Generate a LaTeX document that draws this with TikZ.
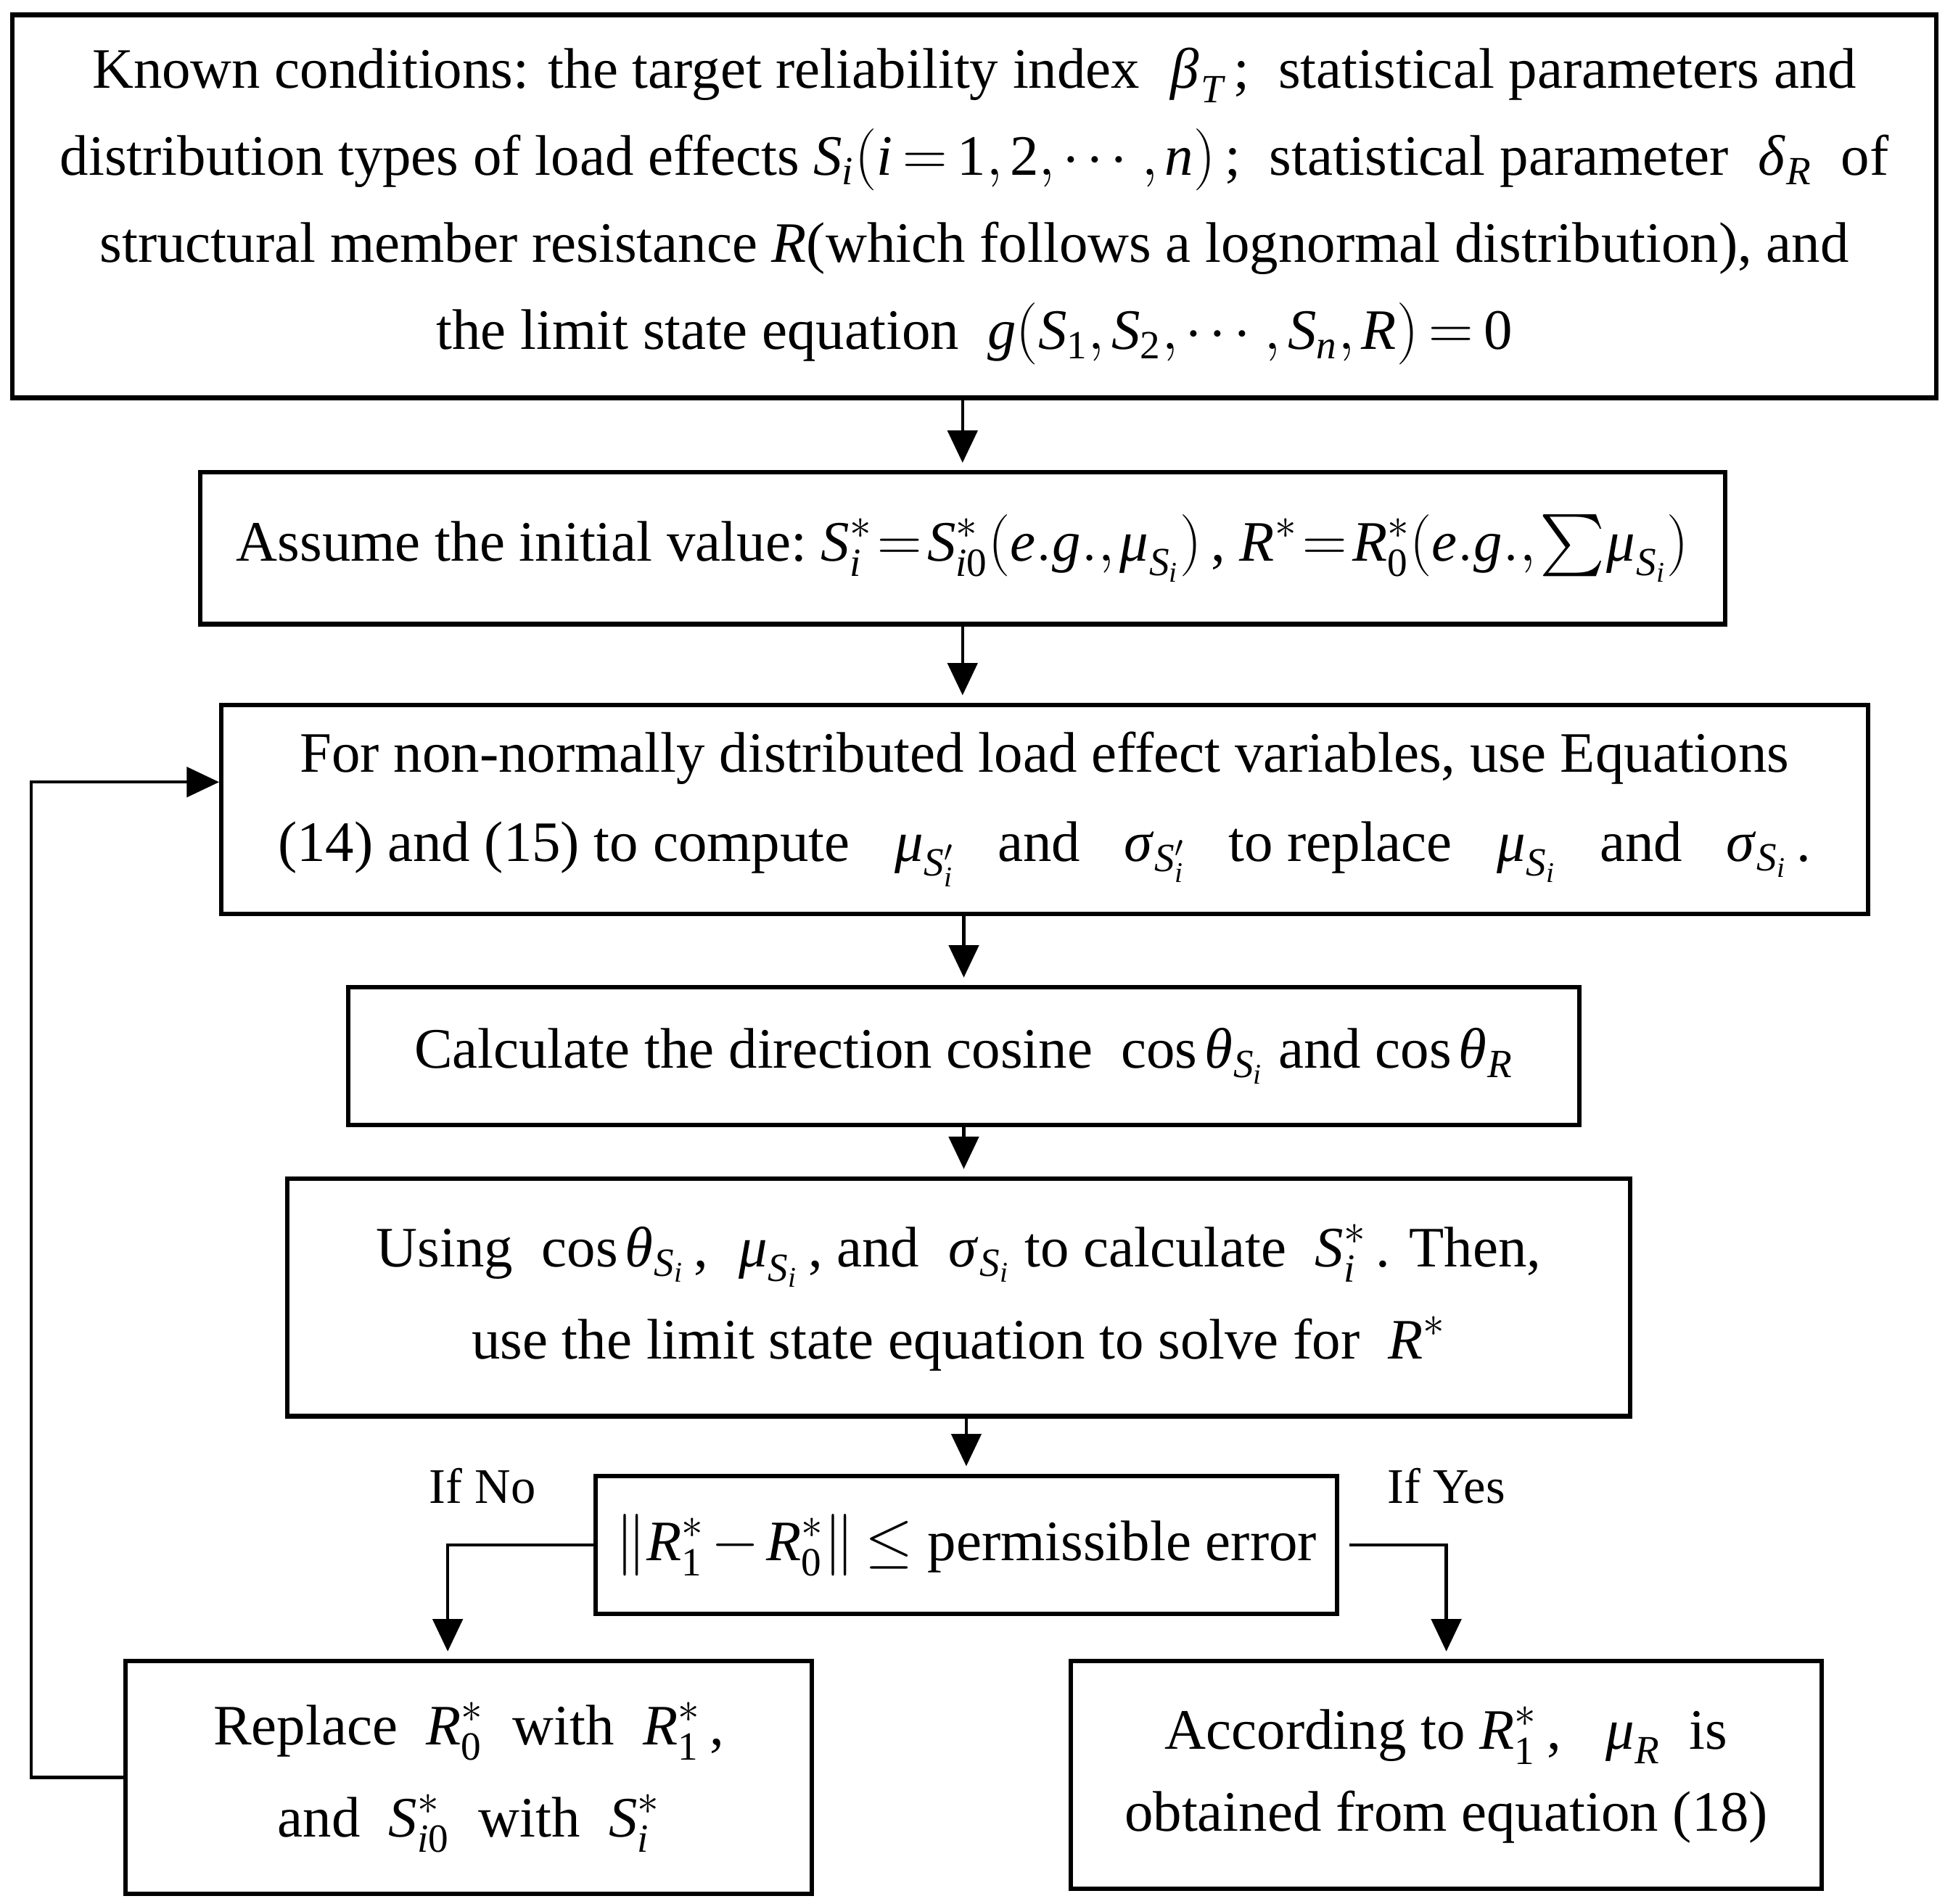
\documentclass[tikz,border=0pt]{standalone}
\usepackage{amsmath}
\usepackage{mathspec}
\setmainfont{Liberation Serif}
\setmathsfont(Digits,Latin,Greek){Liberation Serif}
\setmathrm{Liberation Serif}
\usetikzlibrary{arrows.meta,calc}
\newcommand{\tightmath}{\thickmuskip=3mu plus 1mu\medmuskip=2mu plus 1mu\thinmuskip=2mu\relax}
\newcommand{\tightermath}{\thickmuskip=1.5mu\medmuskip=1mu\thinmuskip=1mu\relax}
\begin{document}
\begin{tikzpicture}[x=0.5pt,y=-0.5pt,
  box/.style={draw,line width=1.8pt,rectangle,inner sep=0pt,align=center,
    font=\fontsize{23}{35}\selectfont\tightmath},
  arr/.style={line width=1.3pt,-{Triangle[length=13pt,width=12pt]},shorten >=3pt},
  lbl/.style={font=\fontsize{20}{24}\selectfont}]
\useasboundingbox (0,0) rectangle (1564,1531);
\node[box,minimum width=1547*0.5pt,minimum height=308*0.5pt] (b1) at (783.5,166)
 {Known conditions: the target reliability index \ $\beta_T$\,;\ \ statistical parameters and\\
  distribution types of load effects $S_i(i=1,2,\cdots,n)$\,;\ \ statistical parameter \ $\delta_R$\ \ of\\
  structural member resistance $R$(which follows a lognormal distribution), and\\
  the limit state equation \ $g(S_1,S_2,\cdots,S_n,R)=0$};
\node[box,minimum width=1226*0.5pt,minimum height=122*0.5pt,font=\fontsize{23}{35}\selectfont\tightermath] (b2) at (774,441)
 {Assume the initial value:\ $S_i^*=S_{i0}^*(e.g.,\mu_{S_i})$\,,\ $R^*=R_0^*(e.g.,{\textstyle\sum}\mu_{S_i})$};
\node[box,minimum width=1324*0.5pt,minimum height=168*0.5pt,font=\fontsize{23}{36}\selectfont\tightmath] (b3) at (840,651)
 {For non-normally distributed load effect variables, use Equations\\
  (14) and (15) to compute \ \ $\mu_{S_i'}$ \ \ and \ \ $\sigma_{S_i'}$ \ \ to replace \ \ $\mu_{S_i}$ \ \ and \ \ $\sigma_{S_i}$\,.};
\node[box,minimum width=990*0.5pt,minimum height=111*0.5pt] (b4) at (775,849.5)
 {Calculate the direction cosine \ $\cos\theta_{S_i}$ and $\cos\theta_R$};
\node[box,minimum width=1080*0.5pt,minimum height=191*0.5pt,font=\fontsize{23}{37}\selectfont\tightmath] (b5) at (771,1043.5)
 {Using \ $\cos\theta_{S_i}$\,, \ $\mu_{S_i}$\,, and \ $\sigma_{S_i}$ to calculate \ $S_i^*$\,. Then,\\
  use the limit state equation to solve for \ $R^*$};
\node[box,minimum width=596*0.5pt,minimum height=111*0.5pt] (b6) at (777,1242.5)
 {$\left\|R_1^*-R_0^*\right\|\le$ permissible error};
\node[box,minimum width=552*0.5pt,minimum height=187*0.5pt,font=\fontsize{23}{37}\selectfont\tightmath] (b7) at (377,1429.5)
 {Replace \ $R_0^*$ \ with \ $R_1^*$\,,\\ and \ $S_{i0}^*$ \ with \ $S_i^*$};
\node[box,minimum width=604*0.5pt,minimum height=183*0.5pt,font=\fontsize{23}{33}\selectfont\tightmath] (b8) at (1163,1427.5)
 {According to $R_1^*$\,, \ \ $\mu_R$ \ is\\ obtained from equation (18)};
\node[lbl] (no) at (388,1195) {If No};
\node[lbl] (yes) at (1163,1195) {If Yes};
\draw[arr] (b2.north |- b1.south) -- (b2.north);
\draw[arr] (b2.south) -- (b2.south |- b3.north);
\draw[arr] (b4.north |- b3.south) -- (b4.north);
\draw[arr] (b4.south) -- (b4.south |- b5.north);
\draw[arr] (b6.north |- b5.south) -- (b6.north);
\draw[arr] (b6.west) -| ($(b7.north)+(-17,0)$);
\draw[arr] ($(b6.east)+(8,0)$) -| (b8.north);
\draw[arr,shorten >=0pt] (b7.west) -- ++(-74,0) |- ($(b3.west)+(0,-22)$);
\end{tikzpicture}
\end{document}
